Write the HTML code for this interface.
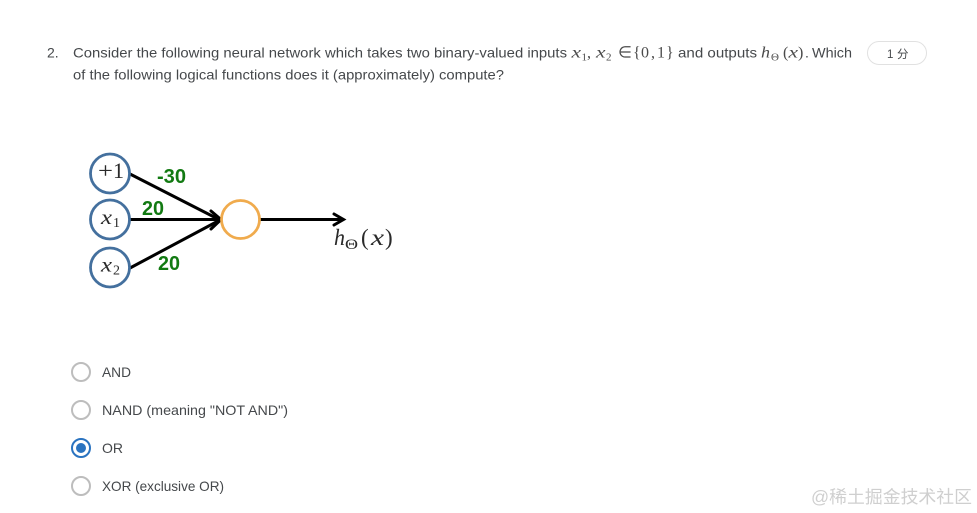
<!DOCTYPE html>
<html><head><meta charset="utf-8"><style>
html,body{margin:0;padding:0;background:#fff;width:977px;height:513px;overflow:hidden}
svg{display:block}
.t{font-family:"Liberation Sans",sans-serif;font-size:14px;fill:#45484b}
.m{font-family:"Liberation Serif",serif;font-size:16px;fill:#4a4a4a}
.s{font-family:"Liberation Serif",serif;font-size:11px;fill:#4a4a4a}
.i{font-style:italic}
.g{font-family:"Liberation Sans",sans-serif;font-weight:bold;font-size:20px;fill:#127a12}
.d{font-family:"Liberation Serif",serif;fill:#2a2a2a}
</style></head><body>
<svg width="977" height="513" viewBox="0 0 977 513" xmlns="http://www.w3.org/2000/svg">
<text class="t" x="47" y="57.5">2.</text>
<text class="t" x="73" y="57.5" textLength="494" lengthAdjust="spacingAndGlyphs">Consider the following neural network which takes two binary-valued inputs</text>
<text class="m i" x="571.5" y="57.5" textLength="9.5" lengthAdjust="spacingAndGlyphs">x</text><text class="s" x="581.5" y="60.5">1</text>
<text class="m" x="587" y="57.5">,</text>
<text class="m i" x="596" y="57.5" textLength="9.5" lengthAdjust="spacingAndGlyphs">x</text><text class="s" x="606" y="60.5">2</text>
<text class="m" x="618" y="57.5">∈</text>
<text class="m" x="633" y="57.5">{</text><text class="m" x="641" y="57.5">0</text><text class="m" x="651" y="57.5">,</text><text class="m" x="657" y="57.5">1</text><text class="m" x="666" y="57.5">}</text>
<text class="t" x="678" y="57.5" textLength="79" lengthAdjust="spacingAndGlyphs">and outputs</text>
<text class="m i" x="761" y="57.5" textLength="9" lengthAdjust="spacingAndGlyphs">h</text><text class="s" x="771" y="60.5">Θ</text>
<text class="m" x="783" y="57.5">(</text><text class="m i" x="788.5" y="57.5" textLength="9.5" lengthAdjust="spacingAndGlyphs">x</text><text class="m" x="798" y="57.5">)</text>
<text class="t" x="805" y="57.5">.</text>
<text class="t" x="812" y="57.5" textLength="40" lengthAdjust="spacingAndGlyphs">Which</text>
<text class="t" x="73" y="79.5" textLength="431" lengthAdjust="spacingAndGlyphs">of the following logical functions does it (approximately) compute?</text>

<rect x="867.5" y="41.5" width="59" height="23" rx="11.5" fill="#fff" stroke="#e1e1e1"/>
<text x="887" y="58" font-family="Liberation Sans,Noto Sans CJK SC,sans-serif" font-size="11.5" fill="#45484b">1</text>
<text x="897" y="58" font-family="Liberation Sans,Noto Sans CJK SC,sans-serif" font-size="11.5" fill="#45484b">分</text>

<g stroke="#000" stroke-width="3" fill="none" stroke-linecap="round">
<path d="M130 174L220 220"/><path d="M130 219.5H220"/><path d="M130 268L220 220"/>
<path d="M211 211L221 219.5L211 229"/>
<path d="M260 219.5H343"/><path d="M334 214L343.5 219.5L334 225"/>
</g>
<g fill="#fff" stroke="#44709e" stroke-width="2.8">
<circle cx="110" cy="173.5" r="19.5"/><circle cx="110" cy="219.5" r="19.5"/><circle cx="110" cy="267.5" r="19.5"/>
</g>
<circle cx="240.5" cy="219.5" r="19" fill="#fff" stroke="#f0ab4d" stroke-width="2.8"/>
<text class="d" x="98" y="178" font-size="22" textLength="15" lengthAdjust="spacingAndGlyphs">+</text>
<text class="d" x="113" y="178" font-size="22" textLength="11" lengthAdjust="spacingAndGlyphs">1</text>
<text class="d" x="101" y="224" font-size="21" font-style="italic" textLength="11" lengthAdjust="spacingAndGlyphs">x</text><text class="d" x="113" y="227" font-size="14">1</text>
<text class="d" x="101" y="271.5" font-size="21" font-style="italic" textLength="11" lengthAdjust="spacingAndGlyphs">x</text><text class="d" x="113" y="274.5" font-size="14">2</text>
<text class="d" x="334" y="245" font-size="23" font-style="italic" textLength="11" lengthAdjust="spacingAndGlyphs">h</text><text class="d" x="345" y="249" font-size="15" textLength="13" lengthAdjust="spacingAndGlyphs">Θ</text>
<text class="d" x="361" y="245" font-size="23">(</text><text class="d" x="371" y="245" font-size="23" font-style="italic" textLength="13" lengthAdjust="spacingAndGlyphs">x</text><text class="d" x="385" y="245" font-size="23">)</text>
<text class="g" x="157" y="183" textLength="29" lengthAdjust="spacingAndGlyphs">-30</text>
<text class="g" x="142" y="215" textLength="22" lengthAdjust="spacingAndGlyphs">20</text>
<text class="g" x="158" y="270" textLength="22" lengthAdjust="spacingAndGlyphs">20</text>

<g fill="#fff" stroke="#bdbdbd" stroke-width="2">
<circle cx="81" cy="372" r="9"/><circle cx="81" cy="410" r="9"/><circle cx="81" cy="486" r="9"/>
</g>
<circle cx="81" cy="448" r="9" fill="#fff" stroke="#2a73c0" stroke-width="2"/>
<circle cx="81" cy="448" r="5" fill="#2a73c0"/>
<text class="t" x="102" y="377" textLength="29" lengthAdjust="spacingAndGlyphs">AND</text>
<text class="t" x="102" y="415" textLength="186" lengthAdjust="spacingAndGlyphs">NAND (meaning "NOT AND")</text>
<text class="t" x="102" y="453">OR</text>
<text class="t" x="102" y="491" textLength="122" lengthAdjust="spacingAndGlyphs">XOR (exclusive OR)</text>

<text x="811" y="503" font-family="Liberation Sans,Noto Sans CJK SC,sans-serif" font-size="17.5" fill="#cfcfcf" textLength="161" lengthAdjust="spacingAndGlyphs">@稀土掘金技术社区</text>
</svg>
</body></html>
